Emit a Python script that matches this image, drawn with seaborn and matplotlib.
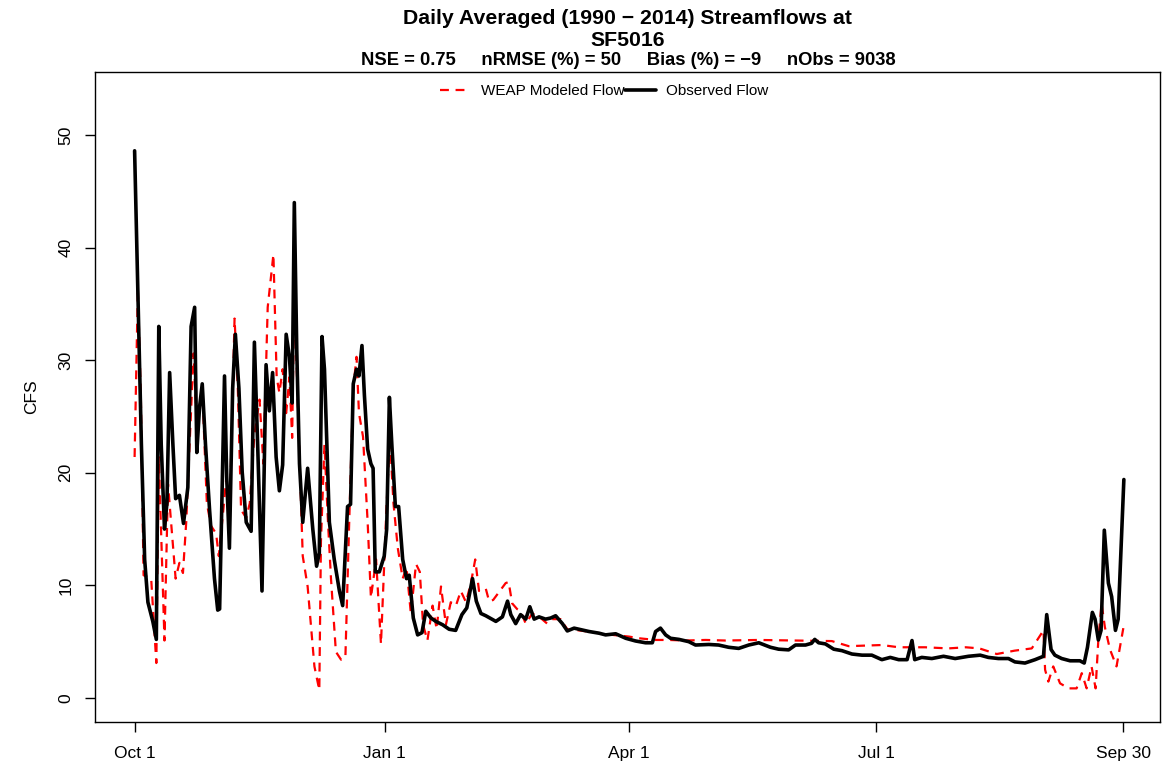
import pandas as pd
import seaborn as sns
import matplotlib.pyplot as plt

# days counted from Oct 1 (day 0) to Sep 30 (day 364)
obs_day = [0, 1.2, 2.5, 3.7, 4.9, 6.7, 8.0, 8.9, 9.8, 11.0, 11.9, 12.9, 14.1, 15.1, 16.5,
           18.0, 19.6, 20.8, 22.1, 22.9, 23.9, 24.9, 26.1, 27.6, 29.4, 30.6, 31.3, 33.1,
           33.9, 34.9, 36.1, 37.1, 38.4, 39.6, 41.1, 42.9, 44.1, 45.3, 46.9, 48.4, 49.6,
           50.8, 52.1, 53.3, 54.5, 55.8, 57.0, 58.0, 58.8, 59.7, 60.7, 61.9, 63.7, 65.6,
           67.0, 68.0, 69.0, 69.9, 71.7, 73.5, 75.4, 76.6, 78.4, 79.5, 80.5, 81.7, 82.6,
           83.7, 84.6, 85.8, 87.0, 87.8, 88.6, 90.1, 91.9, 92.8, 93.8, 94.7, 96.0, 97.2,
           98.7, 100.1, 101.1, 102.6, 104.2, 105.8, 107.2, 109.1, 110.9, 113.4, 115.8,
           118.2, 120.5, 122.3, 124.4, 125.8, 127.5, 129.3, 133.0, 135.4, 137.3, 138.5,
           140.3, 142.1, 144.0, 145.5, 147.1, 148.9, 151.3, 153.2, 155.0, 157.5, 159.3,
           161.8, 163.6, 167.3, 171.0, 173.4, 177.1, 180.8, 184.4, 188.1, 190.6, 191.8,
           193.6, 195.5, 197.3, 200.4, 204.0, 206.5, 211.4, 215.0, 218.7, 222.4, 226.1,
           229.8, 234.1, 237.1, 240.8, 243.3, 247.0, 249.2, 250.4, 251.8, 254.3, 257.4,
           260.4, 264.1, 267.8, 271.4, 275.1, 278.2, 281.3, 284.4, 286.2, 287.2, 289.8,
           293.5, 297.8, 302.1, 307.0, 311.3, 314.3, 318.0, 321.7, 324.1, 327.8, 331.5,
           334.6, 335.8, 337.4, 338.8, 341.3, 344.4, 348.0, 349.6, 350.8, 352.6, 353.6,
           354.8, 355.8, 357.0, 358.5, 359.7, 361.1, 362.1, 364.2]
obs_cfs = [48.6, 36.1, 22.5, 12.3, 8.5, 6.8, 5.2, 33.0, 22.5, 15.0, 17.3, 28.9, 22.5, 17.7,
           18.0, 15.5, 18.7, 33.0, 34.7, 21.8, 25.8, 27.9, 22.5, 16.7, 10.6, 7.8, 7.9, 28.6,
           19.7, 13.3, 27.5, 32.3, 27.5, 20.1, 15.6, 14.8, 31.6, 22.5, 9.5, 29.6, 25.5,
           28.9, 21.4, 18.4, 20.7, 32.3, 30.3, 26.2, 44.0, 30.9, 20.8, 15.6, 20.4, 15.0,
           11.7, 12.9, 32.1, 29.2, 15.6, 12.3, 9.5, 8.2, 17.0, 17.2, 27.9, 29.2, 28.6,
           31.3, 26.9, 22.1, 20.8, 20.4, 11.2, 11.2, 12.6, 15.0, 26.7, 22.5, 17.0, 17.0,
           12.3, 10.6, 10.9, 7.1, 5.6, 5.8, 7.7, 7.1, 6.8, 6.5, 6.1,
           6.0, 7.4, 8.0, 10.6, 8.6, 7.5, 7.3, 6.8, 7.2, 8.6, 7.4,
           6.6, 7.4, 7.0, 8.1, 7.0, 7.2, 7.0, 7.1, 7.3, 6.6, 5.95,
           6.2, 6.1, 5.9, 5.75, 5.6, 5.7, 5.3, 5.06, 4.9, 4.9, 5.9,
           6.2, 5.6, 5.3, 5.2, 5.0, 4.7, 4.75, 4.7, 4.5, 4.4, 4.7,
           4.9, 4.5, 4.33, 4.27, 4.7, 4.7, 4.85, 5.2, 4.9, 4.8, 4.33,
           4.2, 3.9, 3.8, 3.8, 3.4, 3.6, 3.4, 3.4, 5.1, 3.4, 3.6,
           3.5, 3.7, 3.5, 3.7, 3.8, 3.6, 3.5, 3.5, 3.2, 3.1, 3.4,
           3.7, 7.4, 4.3, 3.8, 3.5, 3.3, 3.3, 3.1, 4.5, 7.6, 7.0,
           5.15, 6.0, 14.9, 10.2, 9.0, 6.0, 7.0, 19.4]

mod_day = [0, 1.2, 2.3, 3.3, 6.1, 8.0, 8.9, 11.0, 12.3, 15.1, 16.5, 17.8, 19.0, 20.8, 21.7,
           22.9, 24.9, 26.6, 28.1, 30.0, 31.0, 32.5, 33.7, 35.1, 36.8, 38.0, 39.2, 41.1,
           42.4, 44.1, 46.0, 47.4, 49.0, 51.1, 52.3, 53.3, 54.5, 55.8, 57.0, 58.0, 58.8,
           60.0, 61.9, 63.7, 66.2, 68.0, 68.6, 69.9, 71.2, 72.3, 74.1, 76.0, 77.6, 79.0,
           80.5, 81.7, 82.6, 84.1, 85.8, 87.0, 88.9, 90.7, 92.8, 94.0, 95.3, 96.9, 98.7,
           100.1, 101.7, 103.6, 105.0, 106.2, 107.8, 109.7, 111.2, 112.8, 114.6, 116.4,
           118.3, 120.1, 122.0, 123.8, 125.4, 126.8, 129.3, 130.5, 132.0, 136.6, 137.7,
           139.0, 140.8, 142.1, 144.0, 146.4, 149.5, 151.9, 153.7, 156.8, 159.3, 163.6,
           169.7, 175.9, 182.0, 185.7, 191.8, 196.7, 202.9, 210.2, 217.5, 229.8, 244.5,
           256.7, 262.9, 275.1, 281.3, 291.0, 299.6, 306.0, 311.0, 317.4, 324.0, 330.3,
           334.6, 335.2, 336.4, 338.2, 340.7, 343.8, 346.8, 348.7, 350.5, 352.3, 353.8,
           354.8, 356.0, 357.2, 359.1, 361.5, 364.0]
mod_cfs = [21.4, 36.4, 26.8, 10.9, 10.6, 3.1, 21.4, 5.1, 19.0, 10.6, 12.0, 11.1, 15.6, 25.5,
           30.6, 24.3, 27.5, 17.3, 15.3, 14.6, 12.6, 16.3, 19.4, 17.3, 33.7, 27.5, 16.7,
           16.0, 17.3, 23.4, 26.5, 20.8, 34.7, 39.4, 28.5, 27.1, 29.2, 25.3, 28.5, 23.1,
           36.4, 26.8, 12.6, 9.9, 2.8, 0.7, 13.9, 22.5, 15.6, 10.6, 4.1, 3.4, 3.6, 15.6,
           27.5, 30.3, 25.3, 23.2, 15.6, 8.9, 12.3, 4.8, 17.3, 23.1, 17.3, 13.3, 10.6,
           11.6, 7.5, 11.9, 11.2, 6.5, 5.1, 8.2, 6.1, 9.9, 6.5, 8.5,
           8.2, 9.5, 8.5, 10.2, 12.3, 9.5, 9.7, 8.6, 8.7, 10.2, 10.3,
           8.4, 7.9, 7.7, 6.6, 7.5, 7.1, 6.6, 7.0, 7.0, 6.1, 6.0,
           5.8, 5.6, 5.45, 5.3, 5.15, 5.15, 5.1, 5.15, 5.1, 5.15, 5.1,
           5.05, 4.6, 4.7, 4.5, 4.5, 4.4, 4.5, 4.4, 3.9, 4.2, 4.4,
           6.0, 2.5, 1.45, 2.8, 1.3, 0.85, 0.85, 2.2, 0.85, 2.8, 0.85,
           5.15, 8.4, 6.3, 4.3, 2.8, 6.2]

tick_days = [0, 92, 182, 273, 364]
tick_labels = ["Oct 1", "Jan 1", "Apr 1", "Jul 1", "Sep 30"]

obs_df = pd.DataFrame({"day": obs_day, "cfs": obs_cfs})
mod_df = pd.DataFrame({"day": mod_day, "cfs": mod_cfs})

sns.set_style("white")
plt.rcParams["font.family"] = ["Liberation Sans", "DejaVu Sans"]
plt.rcParams["text.color"] = "black"
plt.rcParams["axes.labelcolor"] = "black"
plt.rcParams["xtick.color"] = "black"
plt.rcParams["ytick.color"] = "black"

fig = plt.figure(figsize=(11.65, 7.7), dpi=100)
ax = fig.add_axes([0.0815, 0.0623, 0.9142, 0.8442])

sns.lineplot(data=mod_df, x="day", y="cfs", ax=ax, color="red", linewidth=1.6,
             linestyle=(0, (4, 3)), label="WEAP Modeled Flow", sort=False)
sns.lineplot(data=obs_df, x="day", y="cfs", ax=ax, color="black", linewidth=2.6,
             label="Observed Flow", sort=False)

ax.set_xlim(-14.6, 377.5)
ax.set_ylim(-2.14, 55.6)
ax.set_xticks(tick_days)
ax.set_xticklabels(tick_labels)
ax.set_yticks(range(0, 51, 10))
ax.tick_params(axis="both", direction="out", length=7.5, width=1, labelsize=12.5,
               bottom=True, left=True)
for lbl in ax.get_yticklabels():
    lbl.set_rotation(90)
    lbl.set_va("center")
ax.tick_params(axis="y", pad=8)
ax.tick_params(axis="x", pad=10)
ax.set_xlabel("")
ax.set_ylabel("CFS", fontsize=12.5, labelpad=14)
for s in ax.spines.values():
    s.set_color("black")
    s.set_linewidth(1)

fig.text(0.539, 0.976, "Daily Averaged (1990 \u2212 2014) Streamflows at", ha="center",
         va="center", fontsize=15.3, fontweight="bold")
fig.text(0.539, 0.947, "SF5016", ha="center", va="center", fontsize=15.3, fontweight="bold")
fig.text(0.539, 0.921, "NSE = 0.75     nRMSE (%) = 50     Bias (%) = \u22129     nObs = 9038",
         ha="center", va="center", fontsize=13.2, fontweight="bold")

ax.legend(loc="center", bbox_to_anchor=(0.478, 0.97), ncol=2, frameon=False,
          fontsize=11, handlelength=2, handletextpad=0.65, columnspacing=0.05)

fig.savefig("out.png", dpi=100)
